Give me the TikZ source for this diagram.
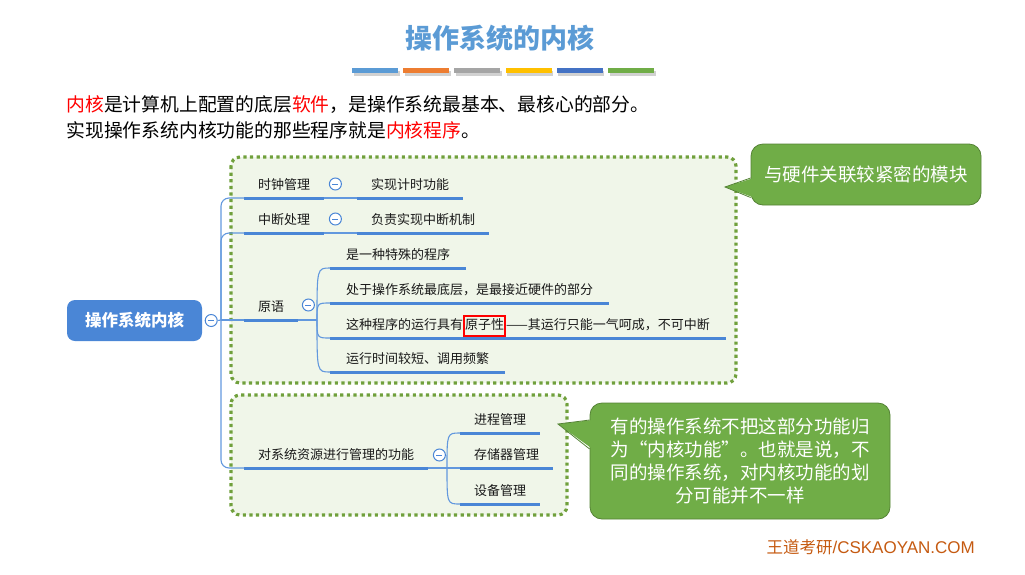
\documentclass[tikz,border=0pt]{standalone}
\usepackage{fontspec}
\setmainfont{Noto Sans CJK SC}
\newfontfamily\latinsans{Liberation Sans}
\usetikzlibrary{calc}

\definecolor{titleblue}{RGB}{91,155,213}
\definecolor{barblue}{RGB}{91,155,213}
\definecolor{barorange}{RGB}{237,125,49}
\definecolor{bargray}{RGB}{165,165,165}
\definecolor{baryellow}{RGB}{255,192,0}
\definecolor{bardblue}{RGB}{68,114,196}
\definecolor{bargreen}{RGB}{112,173,71}
\definecolor{mapblue}{RGB}{74,134,214}
\definecolor{linkblue}{RGB}{98,152,222}
\definecolor{grpgreen}{RGB}{112,160,60}
\definecolor{grpfill}{RGB}{240,246,233}
\definecolor{notefill}{RGB}{112,173,71}
\definecolor{noteedge}{RGB}{84,130,53}
\definecolor{markred}{RGB}{255,0,0}
\definecolor{brand}{RGB}{197,90,17}

\newcommand{\redmark}[1]{{\setlength{\fboxrule}{1.6pt}\setlength{\fboxsep}{0.3pt}\fcolorbox{markred}{grpfill}{\rule[-5pt]{0pt}{18pt}#1}}}

\tikzset{
  grp/.style={draw=grpgreen, line width=3.2pt, dash pattern=on 3.2pt off 3.4pt, fill=grpfill, rounded corners=9pt},
  topic/.style={anchor=south west, inner xsep=14pt, inner ysep=5pt, text height=10pt, text depth=3pt,
    font=\fontsize{13}{15}\selectfont, text=black!90},
  uline/.style={mapblue, line width=3pt},
  conn/.style={linkblue, line width=1.1pt},
  fold/.style={circle, draw=mapblue, fill=white, line width=1pt, minimum size=12pt, inner sep=0pt,
    path picture={\draw[mapblue, line width=1pt] ([xshift=-3pt]path picture bounding box.center) -- ([xshift=3pt]path picture bounding box.center);}},
  rootbox/.style={fill=mapblue, rounded corners=8pt, minimum width=135pt, minimum height=41pt,
    text=white, font=\fontsize{16.5}{18}\selectfont\bfseries},
  note/.style={fill=notefill, draw=noteedge, line width=0.8pt, rounded corners=12pt, text=white,
    font=\fontsize{18.5}{23}\selectfont, align=center, inner sep=0pt},
}

\begin{document}
\begin{tikzpicture}[x=1pt,y=-1pt]
\useasboundingbox (0,0) rectangle (1025,574);

% title
\node[text=titleblue, font=\fontsize{27}{30}\selectfont\bfseries] (title) at (500,38) {操作系统的内核};
\foreach \c [count=\i from 0] in {barblue,barorange,bargray,baryellow,bardblue,bargreen}
{
  \fill[black!18] (353.5+\i*51.2,70.5) rectangle +(46,5);
  \fill[\c] (352+\i*51.2,68) rectangle +(46,5);
}

% intro
\node[anchor=west, font=\fontsize{18.8}{20}\selectfont] (intro1) at (63,105)
  {\textcolor{markred}{内核}是计算机上配置的底层\textcolor{markred}{软件}，是操作系统最基本、最核心的部分。};
\node[anchor=west, font=\fontsize{18.8}{20}\selectfont] (intro2) at (63,130)
  {实现操作系统内核功能的那些程序就是\textcolor{markred}{内核程序}。};

% groups
\draw[grp] (231,157) rectangle (736,383);
\draw[grp] (231,395) rectangle (567,515);

% map
\node[rootbox] (root) at (134.5,320.5) {操作系统内核};
\node[fold] (froot) at ($(root.east)+(9,0)$) {};
\coordinate (hub) at (221,320);

\node[topic] (clk) at (244,198) {时钟管理};
\node[topic] (intr) at (244,233) {中断处理};
\node[topic] (prim) at (244,320) {原语};
\node[topic] (res) at (244,468) {对系统资源进行管理的功能};

\node[topic] (clkc) at (357,198) {实现计时功能};
\node[topic] (intc) at (357,233) {负责实现中断机制};

\node[topic, inner xsep=16pt] (p1) at (330,268) {是一种特殊的程序};
\node[topic, inner xsep=16pt] (p2) at (330,303) {处于操作系统最底层，是最接近硬件的部分};
\node[topic, inner xsep=16pt] (p3) at (330,338) {这种程序的运行具有\redmark{原子性}——其运行只能一气呵成，不可中断};
\node[topic, inner xsep=16pt] (p4) at (330,372) {运行时间较短、调用频繁};

\node[topic] (r1) at (460,433) {进程管理};
\node[topic] (r2) at (460,468) {存储器管理};
\node[topic] (r3) at (460,504) {设备管理};

\foreach \n in {clk,intr,prim,res,clkc,intc,p1,p2,p3,p4,r1,r2,r3}
  \draw[uline] (\n.south west) -- (\n.south east);

\draw[conn] (froot.east) -- (hub);
\foreach \t in {clk,intr,res}
  \draw[conn, rounded corners=8pt] (hub) |- (\t.south west);
\draw[conn] (hub) -- (prim.south west);

\draw[conn] (clk.south east) -- (clkc.south west);
\draw[conn] (intr.south east) -- (intc.south west);

\coordinate (primhub) at (317,320);
\draw[conn] (prim.south east) -- (primhub);
\foreach \c in {p1,p2,p3,p4}
  \draw[conn] (primhub) .. controls (primhub |- \c.south west) .. (\c.south west);

\coordinate (reshub) at (447,468);
\draw[conn] (res.south east) -- (reshub) -- (r2.south west);
\foreach \c in {r1,r3}
  \draw[conn] (reshub) .. controls (reshub |- \c.south west) .. (\c.south west);

\node[fold] (fclk) at ($(clk.south east)+(11,-14)$) {};
\node[fold] (fint) at ($(intr.south east)+(11,-14)$) {};
\node[fold] (fprim) at ($(prim.south east)+(10,-15)$) {};
\node[fold] (fres) at ($(res.south east)+(11,-13)$) {};

% notes
\node[note, minimum width=230pt, minimum height=61pt] (hwnote) at (866,174.5) {与硬件关联较紧密的模块};
\coordinate (hwtip) at (725,187);
\fill[notefill] ($(hwnote.west)+(3,3.5)$) -- (hwtip) -- ($(hwnote.west)+(3,23)$) -- cycle;
\draw[noteedge, line width=0.8pt] ($(hwnote.west)+(0,3.5)$) -- (hwtip) -- ($(hwnote.west)+(0,23)$);

\node[note, minimum width=300pt, minimum height=116pt] (kernote) at (740,461)
  {有的操作系统不把这部分功能归\\为“内核功能”。也就是说，不\\同的操作系统，对内核功能的划\\分可能并不一样};
\coordinate (kertip) at (558,424);
\fill[notefill] ($(kernote.west)+(3,-41)$) -- (kertip) -- ($(kernote.west)+(3,-12)$) -- cycle;
\draw[noteedge, line width=0.8pt] ($(kernote.west)+(0,-41)$) -- (kertip) -- ($(kernote.west)+(0,-12)$);

% brand
\node[anchor=west, text=brand, font=\fontsize{16.5}{18}\selectfont] (brandmark) at (763,547)
  {王道考研{\latinsans\fontsize{17}{18}\selectfont/CSKAOYAN.COM}};
\end{tikzpicture}
\end{document}
